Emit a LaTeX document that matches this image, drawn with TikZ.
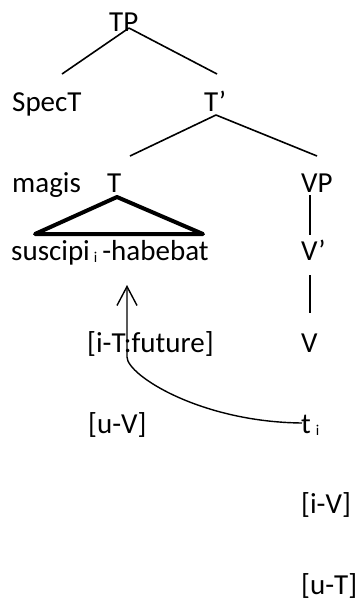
\documentclass[tikz,border=0pt]{standalone}
\usepackage{fontspec}
\setmainfont{Carlito}
\usetikzlibrary{arrows.meta}
\newcommand{\subi}{\raisebox{-2pt}{\fontsize{15}{15}\selectfont i}}
\begin{document}
\begin{tikzpicture}[x=1pt,y=-1pt,
  lbl/.style={inner sep=0pt,anchor=base west,font=\fontsize{29}{35}\selectfont},
  edge/.style={line width=1.6pt},
  tri/.style={line width=4pt,line join=round},
  mv/.style={line width=1.4pt,-{Straight Barb[length=19pt,width=20pt,line width=1.4pt]}}]
\useasboundingbox (0,0) rectangle (358,600);
% labels
\node[lbl] (TP) at (109,31) {TP};
\node[lbl] (SpecT) at (12,111) {SpecT};
\node[lbl] (Tbar) at (204,111) {T’};
\node[lbl] (magis) at (12,192) {magis};
\node[lbl] (T) at (107,192) {T};
\node[lbl] (VP) at (301,192) {VP};
\node[lbl] (susc) at (11,260) {suscipi\hspace{4pt}\subi\hspace{5pt}-habebat};
\node[lbl] (Vbar) at (301,260) {V’};
\node[lbl] (iT) at (87,352) {[i-T:future]};
\node[lbl] (V) at (301,352) {V};
\node[lbl] (uV) at (88,433) {[u-V]};
\node[lbl] (t) at (301,433) {t\hspace{5pt}\subi};
\node[lbl] (iV) at (301,513) {[i-V]};
\node[lbl] (uT) at (301,594) {[u-T]};
% connector end points
\coordinate (tp-b) at (129,28);
\coordinate (spec-t) at (62,74);
\coordinate (tbar-t) at (217,74);
\coordinate (tbar-b) at (216,115);
\coordinate (T-t) at (130,156);
\coordinate (VP-t) at (317,156);
\coordinate (VP-b) at (310,195);
\coordinate (Vbar-t) at (310,235);
\coordinate (Vbar-b) at (310,275);
\coordinate (V-t) at (310,313);
\coordinate (tri-a) at (117,197);
\coordinate (tri-l) at (35,234);
\coordinate (tri-r) at (203,234);
\coordinate (t-l) at (302,423);
\coordinate (bend) at (127,357);
\coordinate (mv-tip) at (127,285);
% tree lines
\draw[edge] (tp-b) -- (spec-t);
\draw[edge] (tp-b) -- (tbar-t);
\draw[edge] (tbar-b) -- (T-t);
\draw[edge] (tbar-b) -- (VP-t);
\draw[edge] (VP-b) -- (Vbar-t);
\draw[edge] (Vbar-b) -- (V-t);
\draw[tri] (tri-a) -- (tri-l) -- (tri-r) -- cycle;
% movement arrow
\draw[mv] (t-l) .. controls (200,422) and (127,375) .. (bend) -- (mv-tip);
\end{tikzpicture}
\end{document}
